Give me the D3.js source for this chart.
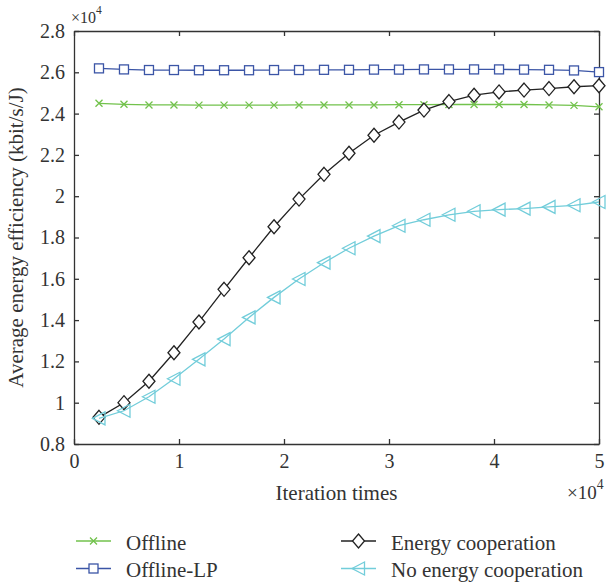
<!DOCTYPE html>
<html>
<head>
<meta charset="utf-8">
<script src="https://cdn.jsdelivr.net/npm/d3@7/dist/d3.min.js"></script>
<style>
  body { margin: 0; background: #fff; }
</style>
</head>
<body>
<div id="chart"></div>
<script>
// Iteraciones (x 10^4)
const ITERATIONS = [0.238, 0.476, 0.714, 0.952, 1.190, 1.429, 1.667, 1.905, 2.143, 2.381,
                    2.619, 2.857, 3.095, 3.333, 3.571, 3.810, 4.048, 4.286, 4.524, 4.762, 5.0];

// Valores de cada serie (x 10^4)
const OFFLINE = [2.450, 2.445, 2.442, 2.442, 2.441, 2.441, 2.441, 2.441, 2.442, 2.442,
                 2.442, 2.442, 2.443, 2.443, 2.444, 2.444, 2.444, 2.444, 2.442, 2.440, 2.433];
const OFFLINE_LP = [2.619, 2.614, 2.611, 2.611, 2.610, 2.610, 2.610, 2.611, 2.611, 2.612,
                    2.612, 2.613, 2.613, 2.614, 2.614, 2.614, 2.614, 2.613, 2.612, 2.609, 2.601];
const ENERGY_COOP = [0.929, 1.000, 1.104, 1.242, 1.391, 1.549, 1.702, 1.852, 1.986, 2.106,
                     2.208, 2.295, 2.359, 2.417, 2.458, 2.489, 2.505, 2.514, 2.521, 2.530, 2.535];
const NO_COOP = [0.924, 0.961, 1.029, 1.116, 1.210, 1.308, 1.413, 1.510, 1.599, 1.678,
                 1.748, 1.807, 1.857, 1.886, 1.910, 1.927, 1.935, 1.940, 1.948, 1.956, 1.972];

const X_TICKS = [0, 1, 2, 3, 4, 5];
const Y_TICKS = [0.8, 1, 1.2, 1.4, 1.6, 1.8, 2, 2.2, 2.4, 2.6, 2.8];

const SERIES = [
    { name: "Offline", values: OFFLINE, color: "#72c24c", marker: "x" },
    { name: "Offline-LP", values: OFFLINE_LP, color: "#3b55a6", marker: "square" },
    { name: "Energy cooperation", values: ENERGY_COOP, color: "#222222", marker: "diamond" },
    { name: "No energy cooperation", values: NO_COOP, color: "#72cdda", marker: "triangle" }
];

const WIDTH = 609;
const HEIGHT = 582;
const margin = { left: 74, right: 10, top: 31, bottom: 138 };
const FONT = "Liberation Serif";
const TEXT_COLOR = "#333";

const svg = d3.select("#chart").append("svg")
    .attr("width", WIDTH).attr("height", HEIGHT);

const x = d3.scaleLinear().domain([0, 5]).range([margin.left, WIDTH - margin.right]);
const y = d3.scaleLinear().domain([0.8, 2.8]).range([HEIGHT - margin.bottom, margin.top]);

const fmt = d => d3.format("~g")(d);

// Ejes con ticks hacia adentro, en los cuatro lados
const axes = [
    svg.append("g")
        .attr("transform", `translate(0,${y(0.8)})`)
        .call(d3.axisBottom(x).tickValues(X_TICKS).tickSizeInner(-5).tickSizeOuter(0).tickPadding(10).tickFormat(fmt)),
    svg.append("g")
        .attr("transform", `translate(0,${y(2.8)})`)
        .call(d3.axisTop(x).tickValues(X_TICKS).tickSizeInner(-5).tickSizeOuter(0).tickFormat("")),
    svg.append("g")
        .attr("transform", `translate(${x(0)},0)`)
        .call(d3.axisLeft(y).tickValues(Y_TICKS).tickSizeInner(-5).tickSizeOuter(0).tickPadding(9).tickFormat(fmt)),
    svg.append("g")
        .attr("transform", `translate(${x(5)},0)`)
        .call(d3.axisRight(y).tickValues(Y_TICKS).tickSizeInner(-5).tickSizeOuter(0).tickFormat(""))
];
axes.forEach(a => a.attr("font-family", FONT).attr("font-size", 20));

svg.selectAll(".domain, .tick line").attr("stroke", "#333").attr("stroke-width", 1.3);
svg.selectAll(".tick text").attr("fill", TEXT_COLOR);

// Multiplicadores x10^4
function addExponent(xPos, yPos, size) {
    const t = svg.append("text").attr("x", xPos).attr("y", yPos)
        .attr("font-family", FONT).attr("font-size", size).attr("fill", TEXT_COLOR);
    t.append("tspan").text("×10");
    t.append("tspan").attr("dy", -size * 0.55).attr("font-size", size * 0.72).text("4");
}
addExponent(71, 23, 16);
addExponent(567, 499, 19);

// Títulos de los ejes
svg.append("text")
    .attr("x", (x(0) + x(5)) / 2).attr("y", 500)
    .attr("text-anchor", "middle").attr("font-family", FONT).attr("font-size", 21).attr("fill", TEXT_COLOR)
    .text("Iteration times");
svg.append("text")
    .attr("transform", `translate(23,${(y(0.8) + y(2.8)) / 2}) rotate(-90)`)
    .attr("text-anchor", "middle").attr("font-family", FONT).attr("font-size", 21).attr("fill", TEXT_COLOR)
    .text("Average energy efficiency (kbit/s/J)");

// Marcadores
function drawMarker(g, type, color, cx, cy) {
    if (type === "x") {
        const s = 3.5;
        g.append("path")
            .attr("d", `M${cx - s},${cy - s}L${cx + s},${cy + s}M${cx - s},${cy + s}L${cx + s},${cy - s}`)
            .attr("stroke", color).attr("stroke-width", 1.3).attr("fill", "none");
    } else if (type === "square") {
        g.append("rect")
            .attr("x", cx - 4.5).attr("y", cy - 4.5).attr("width", 9).attr("height", 9)
            .attr("stroke", color).attr("stroke-width", 1.3).attr("fill", "white");
    } else if (type === "diamond") {
        g.append("path")
            .attr("d", `M${cx},${cy - 7}L${cx + 6},${cy}L${cx},${cy + 7}L${cx - 6},${cy}Z`)
            .attr("stroke", color).attr("stroke-width", 1.3).attr("fill", "white");
    } else if (type === "triangle") {
        g.append("path")
            .attr("d", `M${cx - 6.5},${cy}L${cx + 6},${cy - 6.5}L${cx + 6},${cy + 6.5}Z`)
            .attr("stroke", color).attr("stroke-width", 1.3).attr("fill", "none");
    }
}

const line = d3.line().x((d, i) => x(ITERATIONS[i])).y(d => y(d));

SERIES.forEach(s => {
    const g = svg.append("g");
    g.append("path")
        .datum(s.values)
        .attr("d", line)
        .attr("fill", "none")
        .attr("stroke", s.color)
        .attr("stroke-width", 1.3);
    s.values.forEach((v, i) => drawMarker(g, s.marker, s.color, x(ITERATIONS[i]), y(v)));
});

// Leyenda
const legendPos = [
    { lx: 76, ly: 541 },
    { lx: 76, ly: 568.5 },
    { lx: 341, ly: 541 },
    { lx: 341, ly: 568.5 }
];
SERIES.forEach((s, i) => {
    const p = legendPos[i];
    const g = svg.append("g");
    g.append("line")
        .attr("x1", p.lx).attr("x2", p.lx + 35)
        .attr("y1", p.ly).attr("y2", p.ly)
        .attr("stroke", s.color).attr("stroke-width", 1.3);
    drawMarker(g, s.marker, s.color, p.lx + 17.5, p.ly);
    g.append("text")
        .attr("x", p.lx + 50).attr("y", p.ly + 8.5)
        .attr("font-family", FONT).attr("font-size", 21).attr("fill", TEXT_COLOR)
        .text(s.name);
});
</script>
</body>
</html>
